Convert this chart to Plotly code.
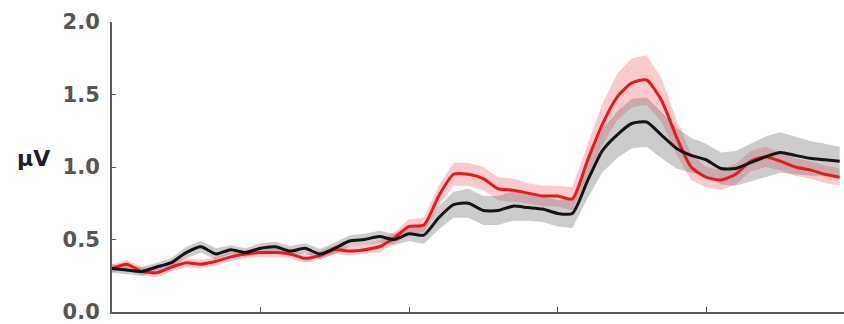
import plotly.graph_objects as go

# Time axis (ms), 10 ms steps
time_ms = list(range(-100, 391, 10))

# Grand-average amplitudes (µV) and SEM for the two conditions
cond_black = [0.30, 0.29, 0.28, 0.31, 0.34, 0.41, 0.45, 0.40, 0.43, 0.41,
              0.44, 0.45, 0.42, 0.44, 0.40, 0.44, 0.49, 0.50, 0.52, 0.50,
              0.54, 0.53, 0.65, 0.74, 0.75, 0.70, 0.70, 0.73, 0.72, 0.71,
              0.68, 0.68, 0.90, 1.11, 1.22, 1.30, 1.31, 1.22, 1.13, 1.08,
              1.05, 0.99, 0.99, 1.03, 1.07, 1.10, 1.08, 1.06, 1.05, 1.04]
sem_black = [0.03, 0.03, 0.03, 0.03, 0.03, 0.04, 0.04, 0.04, 0.03, 0.03,
             0.035, 0.035, 0.035, 0.035, 0.035, 0.04, 0.04, 0.04, 0.04, 0.04,
             0.05, 0.06, 0.08, 0.09, 0.10, 0.10, 0.10, 0.10, 0.09, 0.09,
             0.09, 0.10, 0.12, 0.15, 0.16, 0.17, 0.17, 0.16, 0.14, 0.12,
             0.11, 0.11, 0.12, 0.13, 0.14, 0.14, 0.13, 0.12, 0.11, 0.10]

cond_red = [0.30, 0.33, 0.28, 0.27, 0.31, 0.34, 0.33, 0.35, 0.38, 0.40,
            0.41, 0.41, 0.40, 0.37, 0.39, 0.43, 0.42, 0.43, 0.45, 0.51,
            0.59, 0.60, 0.80, 0.95, 0.95, 0.92, 0.85, 0.84, 0.82, 0.80,
            0.80, 0.78, 1.04, 1.29, 1.48, 1.58, 1.60, 1.46, 1.21, 1.00,
            0.93, 0.91, 0.95, 1.04, 1.07, 1.04, 1.00, 0.98, 0.95, 0.93]
sem_red = [0.03, 0.03, 0.03, 0.03, 0.03, 0.03, 0.03, 0.03, 0.03, 0.03,
           0.03, 0.03, 0.03, 0.03, 0.03, 0.03, 0.03, 0.03, 0.04, 0.04,
           0.05, 0.05, 0.07, 0.08, 0.08, 0.08, 0.08, 0.08, 0.07, 0.07,
           0.07, 0.08, 0.11, 0.14, 0.16, 0.17, 0.17, 0.15, 0.12, 0.09,
           0.07, 0.07, 0.07, 0.07, 0.07, 0.06, 0.06, 0.06, 0.06, 0.06]

y_ticks = [0.0, 0.5, 1.0, 1.5, 2.0]
x_ticks = [0, 100, 200, 300]

series = [
    (cond_red, sem_red, "#e8191e", "rgba(240,90,100,0.32)"),
    (cond_black, sem_black, "#141414", "rgba(110,110,110,0.35)"),
]

fig = go.Figure()

# shaded SEM bands first, then the mean lines on top
for mean, sem, line_col, band_col in series:
    upper = [m + s for m, s in zip(mean, sem)]
    lower = [m - s for m, s in zip(mean, sem)]
    fig.add_trace(go.Scatter(
        x=time_ms + time_ms[::-1], y=upper + lower[::-1],
        fill="toself", fillcolor=band_col, line=dict(width=0),
        mode="lines", hoverinfo="skip", showlegend=False,
    ))

for mean, sem, line_col, band_col in series:
    fig.add_trace(go.Scatter(
        x=time_ms, y=mean, mode="lines",
        line=dict(color=line_col, width=3, shape="spline", smoothing=0.6),
        showlegend=False,
    ))

axis_col = "#5a5a5a"
fig.update_layout(
    width=844, height=324,
    margin=dict(l=112, r=0, t=22, b=9),
    paper_bgcolor="white", plot_bgcolor="white",
    xaxis=dict(
        range=[-100, 392.9], showgrid=False, zeroline=False,
        showline=True, linecolor=axis_col, linewidth=2,
        tickvals=x_ticks, ticks="inside", ticklen=5, tickcolor=axis_col,
        showticklabels=False,
    ),
    yaxis=dict(
        range=[0, 2.0], showgrid=False, zeroline=False,
        showline=True, linecolor=axis_col, linewidth=2,
        tickvals=y_ticks, ticktext=[f"{v:.1f}" for v in y_ticks],
        ticks="inside", ticklen=4, tickcolor=axis_col,
        tickfont=dict(family="DejaVu Sans", size=21, color="#555555", weight="bold"),
        ticklabelstandoff=6, ticklabeloverflow="allow",
    ),
    annotations=[dict(
        text="μV", xref="paper", yref="paper", x=-0.1066, y=0.53,
        showarrow=False, xanchor="center", yanchor="middle",
        font=dict(family="DejaVu Sans", size=22, color="#1c1c2a", weight="bold"),
    )],
)

fig.write_html("out.html")
